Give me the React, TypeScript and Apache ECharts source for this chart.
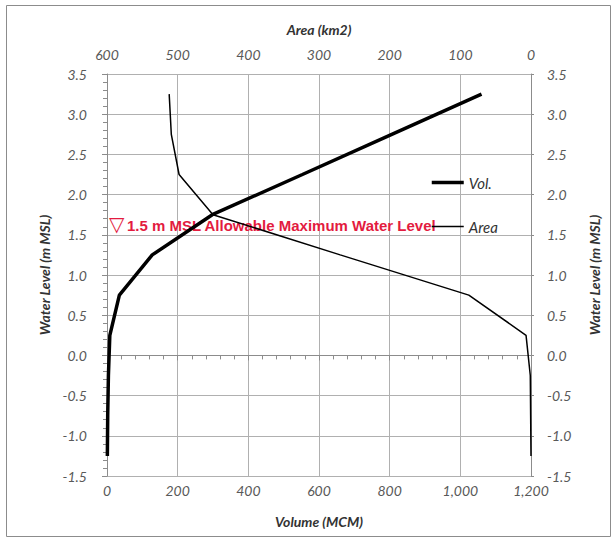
import React, { useEffect, useRef } from "react";
import * as echarts from "echarts";

const levels = [-1.25, -0.75, -0.25, 0.25, 0.75, 1.25, 1.75, 2.25, 2.75, 3.25];
const volumeMCM = [1, 2, 4, 8, 35, 128, 298, 553, 806, 1060];
const areaKm2 = [0, 0.5, 1, 7, 88, 270, 450, 498, 509, 512];

const volTicks = { min: 0, max: 1200, interval: 200 };
const areaTicks = { min: 0, max: 600, interval: 100 };
const levelTicks = { min: -1.5, max: 3.5, interval: 0.5 };

const annotation = "1.5 m MSL Allowable Maximum Water Level";

const labelColor = "#595959";
const nameColor = "#333333";
const gridColor = "#b0b0b0";
const axisColor = "#8c8c8c";
const red = "#e31b3f";

export default function App() {
  const ref = useRef<HTMLDivElement>(null);
  useEffect(() => {
    if (!ref.current) return;
    const chart = echarts.init(ref.current, undefined, { renderer: "svg" });
    const labelStyle = {
      fontFamily: "Lato",
      fontStyle: "italic",
      fontSize: 14,
      color: labelColor,
    };
    const nameStyle = {
      fontFamily: "Lato",
      fontStyle: "italic",
      fontWeight: "bold",
      fontSize: 14,
      color: nameColor,
    };
    const yAxisCommon = {
      type: "value",
      min: levelTicks.min,
      max: levelTicks.max,
      interval: levelTicks.interval,
      name: "Water Level (m MSL)",
      nameLocation: "middle",
      nameRotate: 90,
      nameTextStyle: nameStyle,
      axisLine: { show: true, lineStyle: { color: axisColor } },
      axisLabel: {
        ...labelStyle,
        formatter: (v: number) => v.toFixed(1),
      },
      splitLine: { show: true, lineStyle: { color: gridColor, width: 1 } },
    };
    chart.setOption({
      animation: false,
      backgroundColor: "#ffffff",
      grid: { left: 107, right: 82, top: 74, bottom: 62, containLabel: false },
      legend: {
        data: [
          { name: "Vol.", lineStyle: { width: 3.5, color: "#000000" } },
          { name: "Area", lineStyle: { width: 1.5, color: "#000000" } },
        ],
        orient: "vertical",
        left: 425,
        top: 170,
        itemWidth: 32,
        itemHeight: 14,
        itemGap: 29,
        itemStyle: { color: "rgba(0,0,0,0)", borderWidth: 0, opacity: 0 },
        textStyle: {
          fontFamily: "Lato",
          fontStyle: "italic",
          fontSize: 15,
          color: "#333333",
        },
      },
      xAxis: [
        {
          type: "value",
          position: "bottom",
          min: volTicks.min,
          max: volTicks.max,
          interval: volTicks.interval,
          name: "Volume (MCM)",
          nameLocation: "middle",
          nameGap: 38,
          nameTextStyle: nameStyle,
          axisLine: { show: true, lineStyle: { color: axisColor } },
          axisTick: { show: true, length: 5, lineStyle: { color: axisColor } },
          minorTick: { show: true, splitNumber: 5, length: 4, lineStyle: { color: axisColor } },
          axisLabel: {
            ...labelStyle,
            margin: 7,
            formatter: (v: number) => v.toLocaleString("en-US"),
          },
          splitLine: { show: true, lineStyle: { color: gridColor, width: 1 } },
        },
        {
          type: "value",
          position: "top",
          inverse: true,
          min: areaTicks.min,
          max: areaTicks.max,
          interval: areaTicks.interval,
          name: "Area (km2)",
          nameLocation: "middle",
          nameGap: 38,
          nameTextStyle: nameStyle,
          axisLine: { show: true, lineStyle: { color: axisColor } },
          axisTick: { show: false },
          axisLabel: { ...labelStyle, margin: 13 },
          splitLine: { show: false },
        },
      ],
      yAxis: [
        {
          ...yAxisCommon,
          position: "left",
          nameGap: 52,
          axisTick: { show: true, length: 5, lineStyle: { color: axisColor } },
          minorTick: { show: true, splitNumber: 5, length: 4, lineStyle: { color: axisColor } },
          axisLabel: { ...yAxisCommon.axisLabel, margin: 20 },
        },
        {
          ...yAxisCommon,
          position: "right",
          nameGap: 56,
          axisTick: { show: true, length: 3, lineStyle: { color: axisColor } },
          axisLabel: { ...yAxisCommon.axisLabel, margin: 16 },
          splitLine: { show: false },
        },
      ],
      series: [
        {
          name: "Vol.",
          type: "line",
          xAxisIndex: 0,
          yAxisIndex: 0,
          symbol: "none",
          lineStyle: { color: "#000000", width: 3.5 },
          itemStyle: { color: "#000000" },
          data: levels.map((l, i) => [volumeMCM[i], l]),
          z: 5,
        },
        {
          name: "Area",
          type: "line",
          xAxisIndex: 1,
          yAxisIndex: 0,
          symbol: "none",
          lineStyle: { color: "#000000", width: 1.5 },
          itemStyle: { color: "#000000" },
          data: levels.map((l, i) => [areaKm2[i], l]),
          z: 5,
        },
      ],
      graphic: [
        {
          type: "rect",
          left: 4,
          top: 3,
          shape: { width: 604, height: 531 },
          style: { fill: "none", stroke: "#8c8c8c", lineWidth: 1 },
          silent: true,
        },
        {
          type: "text",
          left: 109,
          top: 214,
          style: { text: "▽", fill: red, font: '20px "DejaVu Sans"' },
          z: 1,
        },
        {
          type: "text",
          left: 127,
          top: 218,
          style: { text: annotation, fill: red, font: 'bold 15px "Liberation Sans"' },
          z: 1,
        },
      ],
    });
    return () => chart.dispose();
  }, []);
  return (
    <div
      ref={ref}
      style={{ position: "fixed", left: 0, top: 0, width: 613, height: 538 }}
    />
  );
}
